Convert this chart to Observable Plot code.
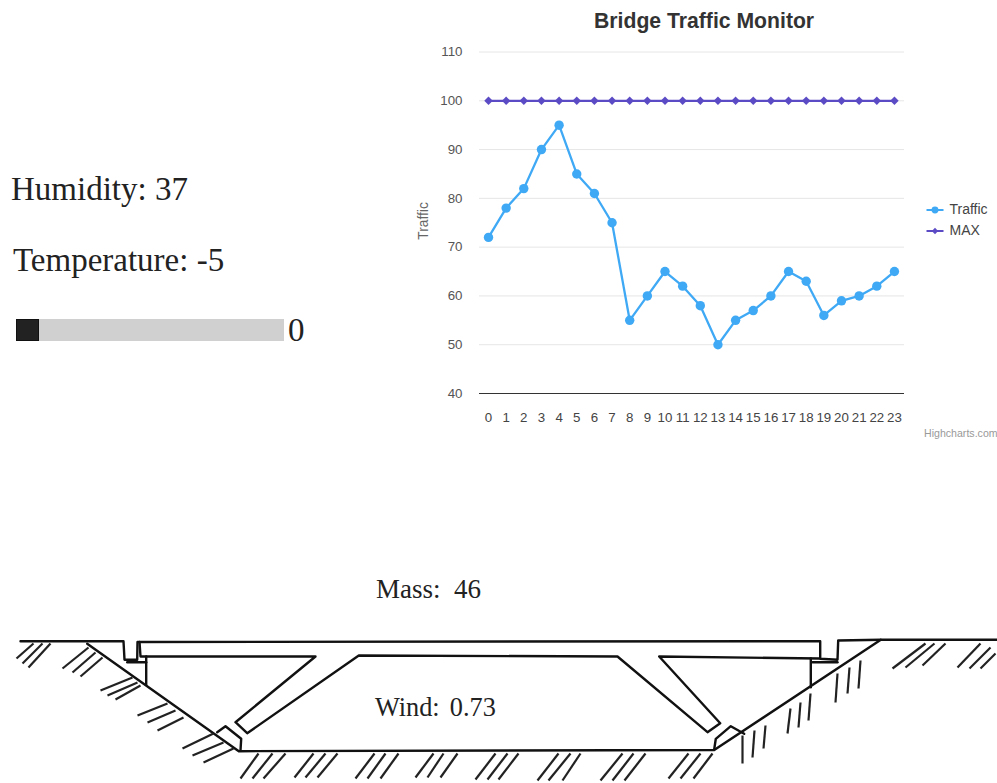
<!DOCTYPE html>
<html>
<head>
<meta charset="utf-8">
<script src="https://cdn.jsdelivr.net/npm/d3@7"></script>
<script src="https://cdn.jsdelivr.net/npm/@observablehq/plot@0.6"></script>
<style>
html,body{margin:0;padding:0;background:#fff}
#page{position:relative;width:997px;height:783px;overflow:hidden}
.t{position:absolute;white-space:pre;line-height:1}
.serif{font-family:"Liberation Serif",serif;color:#222}
.sans{font-family:"Liberation Sans",sans-serif}
#page svg{position:absolute;overflow:visible}
</style>
</head>
<body>
<div id="page"></div>
<script>
const hours = [0,1,2,3,4,5,6,7,8,9,10,11,12,13,14,15,16,17,18,19,20,21,22,23];
const traffic = [72,78,82,90,95,85,81,75,55,60,65,62,58,50,55,57,60,65,63,56,59,60,62,65];
const maxLine = hours.map(() => 100);
const yTicks = [40,50,60,70,80,90,100,110];
const trafficColor = "#3fa9f5";
const maxColor = "#5b4bc4";

const readings = {humidity: 37, temperature: -5, mass: 46, wind: 0.73, slider: 0};

// Bridge drawing, in drawing units
const bridgeOutlines = [
  [[20,640.7],[123,640.7],[124,659.3],[136.7,659.3],[137,641.5],[819.7,640.7],[819.7,658.3],[837,659.3],[837.7,640],[880.3,639.3],[997,639.3]],
  [[139,641.5],[140,656],[315,656],[235,721.7],[246.7,732.7],[358.3,655],[617,656],[707,731.7],[719.7,722.7],[658.7,656],[818.7,658]],
  [[86.7,643.3],[238.3,750.7],[713.7,749.5],[880.3,639.3]],
  [[145.7,656],[145.7,684]],
  [[126.7,661.7],[145.7,661.7]],
  [[810.3,658],[810.3,686.7]],
  [[812,661.7],[837,661.7]],
  [[216.7,731.7],[225,725.7],[240.7,738.3],[240,750]],
  [[713.7,749],[715.3,738.3],[730.3,725.7],[743.7,733.3]]
];
const bridgeHatches = [
  [33,643,16,658],[42,643,22,663],[50,643,28,667],
  [88,647,62,668],[95,652,72,672],[102,657,80,676],
  [132,677,100,690],[137,682,107,695],[140,685,115,699],
  [167,703,137,715],[175,710,147,722],[183,717,157,730],
  [213,733,182,748],[223,742,192,755],[233,748,203,762],
  [742,735,742,763],[754,730,752,757],[765,725,763,748],
  [790,708,787,733],[800,702,798,727],[810,693,808,720],
  [837,673,835,702],[849,667,847,693],[860,660,858,688],
  [925,643,892,668],[934,643,905,667],[945,643,922,665],
  [980,643,957,667],[990,647,969,668],[995,653,980,668],
  [258,753,240,778],[272,753,252,778],[285,753,263,778],
  [313,753,294,777],[325,753,305,777],[337,753,317,777],
  [374,753,355,778],[385,753,367,778],[398,753,380,778],
  [433,753,415,777],[443,753,427,777],[457,753,440,777],
  [495,753,475,779],[507,753,487,779],[518,753,498,779],
  [558,753,537,780],[570,753,548,780],[580,753,562,780],
  [622,753,600,780],[633,753,612,780],[645,753,624,780],
  [688,753,668,778],[700,753,680,778],[712,753,693,778]
];
const hatchRows = bridgeHatches.map(([x1,y1,x2,y2]) => ({x1,y1,x2,y2}));
const outlineRows = bridgeOutlines.flatMap((pts,i) => pts.map(([x,y]) => ({x,y,i})));

const page = document.getElementById("page");
function text(str, left, top, size, cls, extra){
  const d = document.createElement("div");
  d.className = "t " + cls;
  d.textContent = str;
  d.style.left = left + "px"; d.style.top = top + "px"; d.style.fontSize = size + "px";
  Object.assign(d.style, extra || {});
  page.appendChild(d);
  return d;
}

// Bridge
const bridge = Plot.plot({
  width: 997, height: 223, margin: 0,
  x: {domain: [0,997], axis: null},
  y: {domain: [783,560], axis: null},
  marks: [
    Plot.line(outlineRows, {x:"x", y:"y", z:"i", stroke:"#111", strokeWidth:2.4, strokeLinejoin:"round"}),
    Plot.link(hatchRows, {x1:"x1", y1:"y1", x2:"x2", y2:"y2", stroke:"#222", strokeWidth:2.2})
  ]
});
bridge.style.left = "0px"; bridge.style.top = "560px"; bridge.style.filter = "blur(0.5px)";
page.appendChild(bridge);

// Chart
const rows = hours.map((h,i) => ({h, traffic: traffic[i], max: maxLine[i]}));
const chart = Plot.plot({
  width: 597, height: 440,
  marginLeft: 79, marginRight: 93, marginTop: 51.5, marginBottom: 47,
  style: {fontFamily: '"Liberation Sans",sans-serif', background: "transparent"},
  x: {domain: [-0.51,23.57], axis: null},
  y: {domain: [40,110], axis: null},
  marks: [
    Plot.ruleY(yTicks.filter(d => d > 40), {stroke:"#e6e6e6", strokeWidth:1}),
    Plot.ruleY([40], {stroke:"#333", strokeWidth:1}),
    Plot.axisY({ticks: yTicks, tickSize: 0, tickPadding: 17, label: null, fontSize: 13.3, fill:"#555"}),
    Plot.axisX({ticks: hours, tickSize: 0, tickPadding: 19, label: null, fontSize: 13.3, fill:"#444", tickFormat: d => d}),
    Plot.line(rows, {x:"h", y:"max", stroke: maxColor, strokeWidth:2.2}),
    Plot.dot(rows, {x:"h", y:"max", symbol:"diamond2", r:3.8, fill: maxColor, stroke:"none"}),
    Plot.line(rows, {x:"h", y:"traffic", stroke: trafficColor, strokeWidth:2.3}),
    Plot.dot(rows, {x:"h", y:"traffic", r:4.7, fill: trafficColor, stroke:"none"})
  ]
});
chart.style.left = "400px"; chart.style.top = "0px";
page.appendChild(chart);

// Legend
const legendNames = ["Traffic","MAX"];
const legendRow = {Traffic: 0, MAX: 1};
const legend = Plot.plot({
  width: 70, height: 42, margin: 0,
  x: {domain: [0,70], axis: null},
  y: {domain: [-0.5,1.5], range: [0,42], axis: null},
  style: {fontFamily: '"Liberation Sans",sans-serif', background:"transparent"},
  marks: [
    Plot.link(legendNames, {x1: () => 0, x2: () => 17, y1: d => legendRow[d], y2: d => legendRow[d], stroke: d => d === "MAX" ? maxColor : trafficColor, strokeWidth:2}),
    Plot.dot(legendNames, {x: () => 8.5, y: d => legendRow[d], r: d => d === "MAX" ? 3.4 : 5, symbol: d => d === "MAX" ? "diamond2" : "circle", fill: d => d === "MAX" ? maxColor : trafficColor, stroke:"none"}),
    Plot.text(legendNames, {x: () => 23, y: d => legendRow[d], text: d => d, textAnchor:"start", fontSize:14, fill:"#444"})
  ]
});
legend.style.left = "926px"; legend.style.top = "198.5px";
page.appendChild(legend);

// Slider
const sliderTrack = Plot.plot({
  width: 268, height: 22, margin: 0,
  x: {domain: [0,268], axis: null},
  y: {domain: [0,1], axis: null},
  marks: [
    Plot.rect([0], {x1: () => 0, x2: () => 268, y1: () => 0, y2: () => 1, fill:"#d0d0d0"}),
    Plot.rect([0], {x1: () => 0, x2: () => 23, y1: () => 0, y2: () => 1, fill:"#222", stroke:"#111", strokeWidth:1, inset:0.5})
  ]
});
sliderTrack.style.left = "16px"; sliderTrack.style.top = "319px";
page.appendChild(sliderTrack);

// Text
text("Bridge Traffic Monitor", 594, 10, 21.2, "sans", {fontWeight:"bold", color:"#333"});
text("Traffic", 424, 221, 13.8, "sans", {color:"#666", transform:"translate(-50%,-50%) rotate(-90deg)"});
text("Highcharts.com", 924, 428, 10.6, "sans", {color:"#999"});
text("Humidity: " + readings.humidity, 11, 173, 33, "serif");
text("Temperature: " + readings.temperature, 13, 244, 33, "serif");
text(String(readings.slider), 288, 314, 33, "serif");
text("Mass:  " + readings.mass, 376, 576, 27, "serif");
text("Wind:  " + readings.wind, 375, 695, 26.3, "serif", {wordSpacing:"-1.5px"});
</script>
</body>
</html>
